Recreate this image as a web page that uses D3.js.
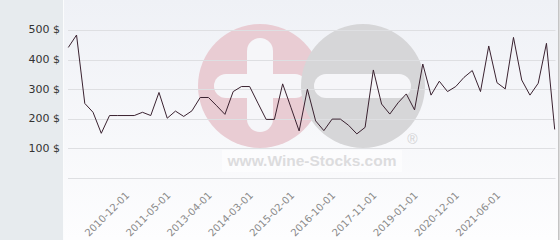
<!DOCTYPE html>
<html>
<head>
<meta charset="utf-8">
<script src="https://cdn.jsdelivr.net/npm/d3@7"></script>
<style>
    body { margin: 0; background: #ffffff; }
    svg { display: block; }
</style>
</head>
<body>
<svg id="viz1" width="560" height="240"></svg>
<script>
// prices, one per listing, in order
var prices = [441, 483, 252, 222, 151, 211, 211, 211, 211, 222,
    211, 289, 202, 226, 208, 227, 272, 272, 244, 215,
    292, 309, 309, 253, 198, 198, 318, 239, 159, 300,
    193, 160, 199, 199, 178, 149, 171, 365, 250, 216,
    254, 284, 230, 385, 280, 327, 292, 309, 340, 363,
    292, 446, 322, 301, 475, 331, 280, 320, 455, 164];

// dates shown on the x axis (every 5th listing, starting at the 8th)
var dateLabels = ["2010-12-01", "2011-05-01", "2013-04-01", "2014-03-01", "2015-02-01",
    "2016-10-01", "2017-11-01", "2019-01-01", "2020-12-01", "2021-06-01"];

var priceTicks = [100, 200, 300, 400, 500];

var width = 560;
var height = 240;
const plot = {left: 68.3, right: 554.7, top: 30, bottom: 178};

var viz1 = d3.select("#viz1");

var defs = viz1.append("defs");
var grad = defs.append("linearGradient")
    .attr("id", "bg-grad")
    .attr("x1", 0).attr("y1", 0).attr("x2", 0).attr("y2", 1);
grad.append("stop").attr("offset", "0%").attr("stop-color", "#eff1f6");
grad.append("stop").attr("offset", "100%").attr("stop-color", "#fdfdfe");

// left panel + plot background
viz1.append("rect")
    .attr("x", 0).attr("y", 0)
    .attr("width", 63).attr("height", height)
    .style("fill", "#e7ebee");

viz1.append("rect")
    .attr("x", 63).attr("y", 0)
    .attr("width", 495).attr("height", height)
    .style("fill", "url(#bg-grad)");

viz1.append("line")
    .attr("x1", 63.5).attr("x2", 63.5)
    .attr("y1", 0).attr("y2", height)
    .style("stroke", "#fbfcfd")
    .style("stroke-width", "1px");

viz1.append("line")
    .attr("x1", 558.8).attr("x2", 558.8)
    .attr("y1", 0).attr("y2", height)
    .style("stroke", "#c4c4c4")
    .style("stroke-width", "1.6px");

// watermark
var wm = viz1.append("g").attr("id", "watermark");

wm.append("circle")
    .attr("cx", 260).attr("cy", 86).attr("r", 62)
    .style("fill", "#e9ccd3");
wm.append("rect")
    .attr("x", 247).attr("y", 38)
    .attr("width", 26).attr("height", 94)
    .attr("rx", 13)
    .style("fill", "#f6f6f9");
wm.append("rect")
    .attr("x", 214).attr("y", 74)
    .attr("width", 93).attr("height", 24)
    .attr("rx", 12)
    .style("fill", "#f6f6f9");

wm.append("circle")
    .attr("cx", 363).attr("cy", 86).attr("r", 62)
    .style("fill", "#d6d6d8");
wm.append("rect")
    .attr("x", 314).attr("y", 74)
    .attr("width", 97).attr("height", 24)
    .attr("rx", 12)
    .style("fill", "#f6f6f9");

wm.append("text")
    .attr("x", 412.5).attr("y", 144)
    .attr("text-anchor", "middle")
    .style("font-family", "'Liberation Sans', Arial, sans-serif")
    .style("font-size", "14px")
    .style("fill", "#d2d2d4")
    .text("®");

wm.append("rect")
    .attr("x", 222).attr("y", 150)
    .attr("width", 180).attr("height", 22)
    .style("fill", "#ffffff")
    .style("opacity", 0.5);

wm.append("text")
    .attr("x", 312).attr("y", 166)
    .attr("text-anchor", "middle")
    .style("font-family", "'Liberation Sans', Arial, sans-serif")
    .style("font-weight", "bold")
    .style("font-size", "15.5px")
    .style("fill", "#dcdcde")
    .text("www.Wine-Stocks.com");

var xScale = d3.scalePoint()
    .domain(d3.range(prices.length))
    .range([plot.left, plot.right]);

var yScale = d3.scaleLinear()
    .domain([0, 500])
    .range([plot.bottom, plot.top]);

// grid lines (0 .. 500)
viz1.append("g")
    .selectAll("line")
    .data([0].concat(priceTicks))
    .enter()
    .append("line")
    .attr("x1", 68).attr("x2", 555.5)
    .attr("y1", d => Math.round(yScale(d)) + 0.5)
    .attr("y2", d => Math.round(yScale(d)) + 0.5)
    .style("stroke", "#dedfe2")
    .style("stroke-width", "1px");

viz1.append("g")
    .selectAll("text")
    .data(priceTicks)
    .enter()
    .append("text")
    .attr("x", 60)
    .attr("y", d => yScale(d))
    .attr("dy", "0.3em")
    .attr("text-anchor", "end")
    .style("font-family", "'DejaVu Sans', sans-serif")
    .style("font-size", "11px")
    .style("fill", "#333333")
    .text(d => d + " $");

// x labels
var labelIdx = dateLabels.map((d, i) => 7 + i * 5);

viz1.append("g")
    .selectAll("text")
    .data(labelIdx)
    .enter()
    .append("text")
    .attr("transform", d => `translate(${xScale(d) + 4},${plot.bottom + 18}) rotate(-45)`)
    .attr("text-anchor", "end")
    .style("font-family", "'DejaVu Sans', sans-serif")
    .style("font-size", "10px")
    .style("fill", "#8a8a8a")
    .text((d, i) => dateLabels[i]);

var line = d3.line()
    .x((d, i) => xScale(i))
    .y(d => yScale(d));

viz1.append("path")
    .datum(prices)
    .attr("d", line)
    .style("fill", "none")
    .style("stroke", "#3a2230")
    .style("stroke-width", "1px")
    .style("stroke-linejoin", "round");
</script>
</body>
</html>
